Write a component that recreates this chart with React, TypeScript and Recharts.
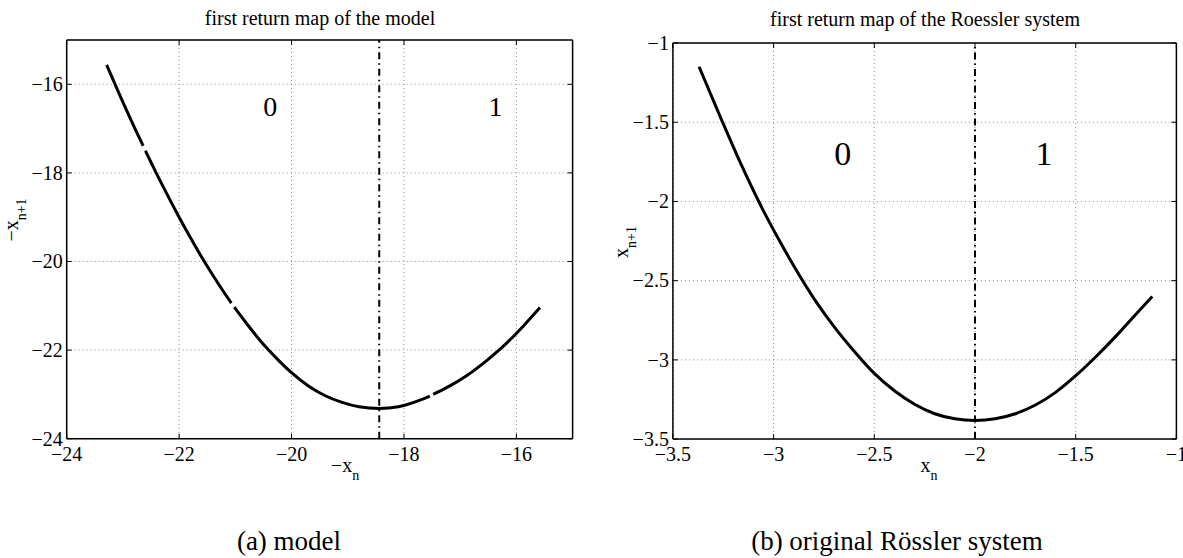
import React from 'react';
import { ComposedChart, Line, XAxis, YAxis, CartesianGrid, ReferenceLine, ReferenceDot } from 'recharts';

const FONT = '"Liberation Serif", "Times New Roman", Times, serif';

// ---------- Panel (a): model ----------
const modelTicks = [-24, -22, -20, -18, -16];
const modelDomain = [-24, -15];
const modelX = [
  -23.29, -23.05, -22.8, -22.64, -22.62, -22.6, -22.4, -22.2, -22.0, -21.8, -21.6, -21.4, -21.2, -21.07, -21.05,
  -21.02, -20.8, -20.6, -20.4, -20.2, -20.0, -19.7, -19.4, -19.1, -18.8, -18.44, -18.1, -17.8, -17.54, -17.52,
  -17.48, -17.2, -16.9, -16.6, -16.3, -16.1, -15.85, -15.58,
];
const modelY: (number | null)[] = [
  -15.56, -16.26, -16.96, -17.39, null, -17.5, -18.02, -18.52, -19.0, -19.46, -19.9, -20.31, -20.7, -20.94, null,
  -21.03, -21.4, -21.72, -22.01, -22.27, -22.51, -22.81, -23.03, -23.18, -23.28, -23.32, -23.28, -23.17, -23.04, null,
  -23.0, -22.82, -22.59, -22.31, -21.99, -21.75, -21.42, -21.04,
];
const modelBorder = -18.44;
const modelSymbols = ['0', '1'];
const modelSymbolX = [-20.38, -16.37];
const modelSymbolY = [-16.51, -16.51];

// ---------- Panel (b): Roessler ----------
const rossTicks = [-3.5, -3, -2.5, -2, -1.5, -1];
const rossDomain = [-3.5, -1];
const rossX = [
  -3.37, -3.26, -3.16, -3.07, -2.97, -2.87, -2.78, -2.7, -2.6, -2.5, -2.4, -2.3, -2.2, -2.1, -2.0,
  -1.9, -1.8, -1.7, -1.6, -1.5, -1.4, -1.3, -1.2, -1.12,
];
const rossY = [
  -1.15, -1.48, -1.77, -2.01, -2.25, -2.47, -2.65, -2.79, -2.945, -3.085, -3.195, -3.28, -3.34, -3.372, -3.383,
  -3.372, -3.34, -3.285, -3.205, -3.1, -2.98, -2.85, -2.71, -2.6,
];
const rossBorder = -2.0;
const rossSymbols = ['0', '1'];
const rossSymbolX = [-2.657, -1.657];
const rossSymbolY = [-1.694, -1.694];

const fmt = (v: number) => (v < 0 ? '\u2212' + String(Math.abs(v)) : String(v));

const TICK_FS = 20;

const LeftTick = (p: any) => (
  <g>
    <line x1={p.x} x2={p.x + 5} y1={p.y} y2={p.y} stroke="#000" strokeWidth={1} />
    <text x={p.x - 4} y={p.y} dy="0.34em" textAnchor="end" fontFamily={FONT} fontSize={TICK_FS} fill="#000">
      {fmt(p.payload.value)}
    </text>
  </g>
);
const BottomTick = (p: any) => (
  <g>
    <line x1={p.x} x2={p.x} y1={p.y} y2={p.y - 5} stroke="#000" strokeWidth={1} />
    <text x={p.x} y={p.y + 22} textAnchor="middle" fontFamily={FONT} fontSize={TICK_FS} fill="#000">
      {fmt(p.payload.value)}
    </text>
  </g>
);
const TopTick = (p: any) => <line x1={p.x} x2={p.x} y1={p.y} y2={p.y + 5} stroke="#000" strokeWidth={1} />;
const RightTick = (p: any) => <line x1={p.x} x2={p.x - 5} y1={p.y} y2={p.y} stroke="#000" strokeWidth={1} />;

const symbolShape = (label: string, size: number) => (p: any) => (
  <text x={p.cx} y={p.cy} dy="0.34em" textAnchor="middle" fontFamily={FONT} fontSize={size} fill="#000">
    {label}
  </text>
);

type PanelProps = {
  left: number;
  width: number;
  margin: { top: number; right: number; bottom: number; left: number };
  yAxisWidth: number;
  xs: number[];
  ys: (number | null)[];
  ticks: number[];
  domain: number[];
  border: number;
  symbols: string[];
  symX: number[];
  symY: number[];
  symSize: number;
};

function Panel(props: PanelProps) {
  const data = props.xs.map((x, i) => ({ x, y: props.ys[i] }));
  const axisLine = { stroke: '#000', strokeWidth: 1.5 };
  return (
    <div style={{ position: 'absolute', left: props.left, top: 0 }}>
      <ComposedChart width={props.width} height={558} data={data} margin={props.margin}>
        <CartesianGrid stroke="#8a8a8a" strokeDasharray="1 3" strokeWidth={1} />
        <XAxis
          dataKey="x"
          type="number"
          domain={props.domain}
          ticks={props.ticks}
          interval={0}
          allowDataOverflow
          height={30}
          tickSize={0}
          tickMargin={0}
          axisLine={axisLine}
          tickLine={false}
          tick={BottomTick}
        />
        <XAxis
          xAxisId="top"
          orientation="top"
          dataKey="x"
          type="number"
          domain={props.domain}
          ticks={props.ticks}
          interval={0}
          allowDataOverflow
          height={1}
          tickSize={0}
          tickMargin={0}
          axisLine={axisLine}
          tickLine={false}
          tick={TopTick}
        />
        <YAxis
          type="number"
          domain={props.domain}
          ticks={props.ticks}
          interval={0}
          allowDataOverflow
          width={props.yAxisWidth}
          tickSize={0}
          tickMargin={0}
          axisLine={axisLine}
          tickLine={false}
          tick={LeftTick}
        />
        <YAxis
          yAxisId="right"
          orientation="right"
          type="number"
          domain={props.domain}
          ticks={props.ticks}
          interval={0}
          allowDataOverflow
          width={1}
          tickSize={0}
          tickMargin={0}
          axisLine={axisLine}
          tickLine={false}
          tick={RightTick}
        />
        <ReferenceLine x={props.border} stroke="#000" strokeWidth={2} strokeDasharray="7 4 1.5 4" />
        <Line
          type="monotone"
          dataKey="y"
          stroke="#000"
          strokeWidth={3}
          dot={false}
          activeDot={false}
          isAnimationActive={false}
          connectNulls={false}
        />
        {props.symbols.map((s, i) => (
          <ReferenceDot
            key={s}
            x={props.symX[i]}
            y={props.symY[i]}
            r={1}
            shape={symbolShape(s, props.symSize)}
          />
        ))}
      </ComposedChart>
    </div>
  );
}

export default function App() {
  const t = { fontFamily: FONT, fill: '#000' } as const;
  return (
    <div style={{ position: 'absolute', left: 0, top: 0, width: 1183, height: 558, background: '#fff', overflow: 'hidden' }}>
      <Panel
        left={0}
        width={600}
        margin={{ top: 39, right: 26.4, bottom: 89.3, left: 0 }}
        yAxisWidth={66.7}
        xs={modelX}
        ys={modelY}
        ticks={modelTicks}
        domain={modelDomain}
        border={modelBorder}
        symbols={modelSymbols}
        symX={modelSymbolX}
        symY={modelSymbolY}
        symSize={28}
      />
      <Panel
        left={600}
        width={583}
        margin={{ top: 42, right: 5.6, bottom: 88.9, left: 0 }}
        yAxisWidth={72.9}
        xs={rossX}
        ys={rossY}
        ticks={rossTicks}
        domain={rossDomain}
        border={rossBorder}
        symbols={rossSymbols}
        symX={rossSymbolX}
        symY={rossSymbolY}
        symSize={34}
      />
      <svg width={1183} height={558} style={{ position: 'absolute', left: 0, top: 0, pointerEvents: 'none' }}>
        <text x={320} y={25} textAnchor="middle" fontSize={20} {...t}>first return map of the model</text>
        <text x={925} y={26} textAnchor="middle" fontSize={20} {...t}>first return map of the Roessler system</text>
        <text x={345} y={472} textAnchor="middle" fontSize={20} {...t}>
          −x<tspan dy={8} fontSize={14}>n</tspan>
        </text>
        <text x={929} y={472} textAnchor="middle" fontSize={20} {...t}>
          x<tspan dy={8} fontSize={14}>n</tspan>
        </text>
        <text transform="translate(18,220) rotate(-90)" textAnchor="middle" fontSize={20} {...t}>
          −x<tspan dy={8} fontSize={14}>n+1</tspan>
        </text>
        <text transform="translate(628,242) rotate(-90)" textAnchor="middle" fontSize={20} {...t}>
          x<tspan dy={8} fontSize={14}>n+1</tspan>
        </text>
        <text x={289} y={550} textAnchor="middle" fontSize={27} {...t}>(a) model</text>
        <text x={897} y={550} textAnchor="middle" fontSize={27} {...t}>(b) original Rössler system</text>
      </svg>
    </div>
  );
}
